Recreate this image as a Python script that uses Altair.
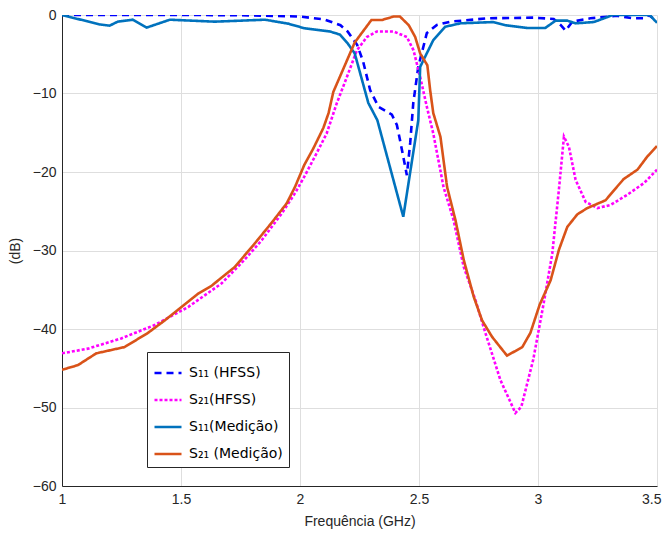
import altair as alt
import pandas as pd

# ---- data ----
f_s11_hfss = [1.0, 1.3, 1.58, 1.8, 2.0, 2.1, 2.17, 2.2, 2.24, 2.265, 2.295, 2.33, 2.386, 2.407,
              2.42, 2.449, 2.463, 2.476, 2.497, 2.533, 2.575, 2.632, 2.787, 2.98, 3.066, 3.095,
              3.116, 3.144, 3.22, 3.333, 3.4, 3.45, 3.465, 3.5]
db_s11_hfss = [0, 0, 0, -0.05, -0.2, -0.55, -1.3, -2.1, -3.8, -5.9, -9.6, -11.7, -12.7, -14.0,
               -15.9, -20.4, -16.3, -11.2, -6.6, -2.3, -1.27, -0.85, -0.42, -0.34, -0.5, -1.27,
               -2.0, -0.85, -0.42, -0.1, -0.42, -0.42, 0.0, -0.8]

f_s21_hfss = [1.0, 1.109, 1.249, 1.389, 1.53, 1.67, 1.754, 1.839, 1.923, 1.979, 2.018, 2.07, 2.112,
              2.155, 2.197, 2.239, 2.281, 2.323, 2.393, 2.449, 2.477, 2.505, 2.533, 2.56, 2.603,
              2.645, 2.688, 2.737, 2.779, 2.842, 2.905, 2.93, 2.98, 3.024, 3.06, 3.089, 3.109,
              3.13, 3.158, 3.2, 3.25, 3.305, 3.375, 3.446, 3.5]
db_s21_hfss = [-43.1, -42.5, -41.2, -39.5, -37.2, -34.2, -31.6, -28.7, -25.3, -22.7, -20.6, -17.6,
               -15.1, -11.2, -7.9, -4.5, -2.8, -2.1, -2.1, -2.8, -4.5, -7.9, -11.7, -15.1, -21.9,
               -26.1, -32.1, -36.3, -40.5, -46.5, -50.7, -49.9, -43.9, -36.7, -30.4, -21.9,
               -15.5, -16.8, -21.0, -23.8, -24.6, -24.2, -22.9, -21.4, -19.7]

f_s11_med = [1.0, 1.158, 1.2, 1.234, 1.297, 1.356, 1.453, 1.642, 1.853, 1.95, 2.02, 2.126, 2.168,
             2.2, 2.23, 2.287, 2.325, 2.434, 2.497, 2.505, 2.56, 2.61, 2.674, 2.81, 2.863, 2.955,
             3.03, 3.074, 3.123, 3.158, 3.234, 3.277, 3.314, 3.45, 3.47, 3.5]
db_s11_med = [0, -1.2, -1.36, -0.85, -0.6, -1.6, -0.6, -0.85, -0.6, -1.1, -1.7, -2.1, -2.5,
              -3.6, -4.9, -11.2, -13.4, -25.7, -13.4, -6.6, -3.2, -1.5, -1.06, -0.9, -1.3, -1.66,
              -1.66, -0.72, -0.72, -1.06, -0.9, -0.43, 0.0, 0.0, 0.0, -1.0]

f_s21_med = [1.0, 1.067, 1.144, 1.263, 1.361, 1.432, 1.572, 1.628, 1.726, 1.81, 1.88, 1.944, 1.979,
             2.018, 2.056, 2.098, 2.12, 2.14, 2.18, 2.23, 2.30, 2.344, 2.393, 2.42, 2.457, 2.484,
             2.505, 2.535, 2.547, 2.56, 2.59, 2.618, 2.653, 2.688, 2.73, 2.765, 2.807, 2.87,
             2.934, 2.968, 3.007, 3.053, 3.088, 3.123, 3.165, 3.207, 3.284, 3.32, 3.36, 3.418,
             3.46, 3.5]
db_s21_med = [-45.2, -44.6, -43.1, -42.3, -40.5, -38.9, -35.5, -34.5, -32.1, -29.1, -26.5, -24.0,
              -21.9, -19.1, -17.0, -14.4, -12.5, -9.8, -7.0, -3.5, -0.64, -0.64, -0.2, -0.2, -1.3,
              -2.8, -4.9, -6.4, -9.6, -12.5, -15.5, -21.9, -26.1, -31.2, -35.9, -38.9, -41.0,
              -43.4, -42.3, -40.5, -36.9, -33.8, -29.9, -27.0, -25.4, -24.6, -23.6, -22.3, -20.9,
              -19.7, -18.0, -16.7]

series_names = ["S\u2081\u2081 (HFSS)", "S\u2082\u2081(HFSS)", "S\u2081\u2081(Medição)", "S\u2082\u2081 (Medição)"]
series_colors = ["#0000FF", "#FF00FF", "#0072BD", "#D95319"]
series_dash = [[7, 5], [3, 2], [1, 0], [1, 0]]

rows = []
for name, fs, ds in zip(series_names,
                        [f_s11_hfss, f_s21_hfss, f_s11_med, f_s21_med],
                        [db_s11_hfss, db_s21_hfss, db_s11_med, db_s21_med]):
    for i, (f, d) in enumerate(zip(fs, ds)):
        rows.append({"serie": name, "f": f, "db": d, "i": i})
df = pd.DataFrame(rows)

font = "Liberation Sans"

base = alt.Chart(df).mark_line(strokeWidth=2.6, clip=True).encode(
    x=alt.X("f:Q", scale=alt.Scale(domain=[1, 3.5], nice=False, zero=False),
            axis=alt.Axis(title="Frequência (GHz)", values=[1, 1.5, 2, 2.5, 3, 3.5],
                          format="~g", labelFlush=False,
                          labelAlign=alt.ExprRef(expr="datum.value == 3.5 ? 'right' : 'center'"),
                          labelOffset=alt.ExprRef(expr="datum.value == 3.5 ? 4 : 0"))),
    y=alt.Y("db:Q", scale=alt.Scale(domain=[-60, 0], nice=False),
            axis=alt.Axis(title="(dB)", values=[0, -10, -20, -30, -40, -50, -60])),
    order="i:Q",
    color=alt.Color("serie:N", scale=alt.Scale(domain=series_names, range=series_colors),
                    legend=alt.Legend(orient="none", legendX=85, legendY=337, title=None,
                                      fillColor="white", strokeColor="#262626", padding=6,
                                      symbolType="stroke", symbolSize=729, symbolStrokeWidth=2.6,
                                      labelFontSize=14, labelFont="DejaVu Sans", labelColor="#000000",
                                      rowPadding=5, labelOffset=6, cornerRadius=0)),
    strokeDash=alt.StrokeDash("serie:N", scale=alt.Scale(domain=series_names, range=series_dash),
                              legend=alt.Legend(orient="none", legendX=85, legendY=337, title=None)),
)

layers = [base.transform_filter(alt.datum.serie == n) for n in series_names]

chart = alt.layer(*layers).properties(
    width=595, height=471,
    autosize=alt.AutoSizeParams(type="none"),
    padding={"left": 54, "top": 7, "right": 5, "bottom": 43},
).configure_view(stroke=None).configure_axis(
    grid=True, gridColor="#dedede", gridWidth=1,
    domainColor="#262626", domainWidth=1,
    ticks=False, labelFont=font, labelFontSize=14, labelColor="#262626",
    titleFont=font, titleFontSize=14, titleColor="#262626", titleFontWeight="normal",
    labelPadding=6,
).configure_axisX(titlePadding=8).configure_axisY(titlePadding=10)

chart.save("out.html", embed_options={"renderer": "svg", "actions": False})
